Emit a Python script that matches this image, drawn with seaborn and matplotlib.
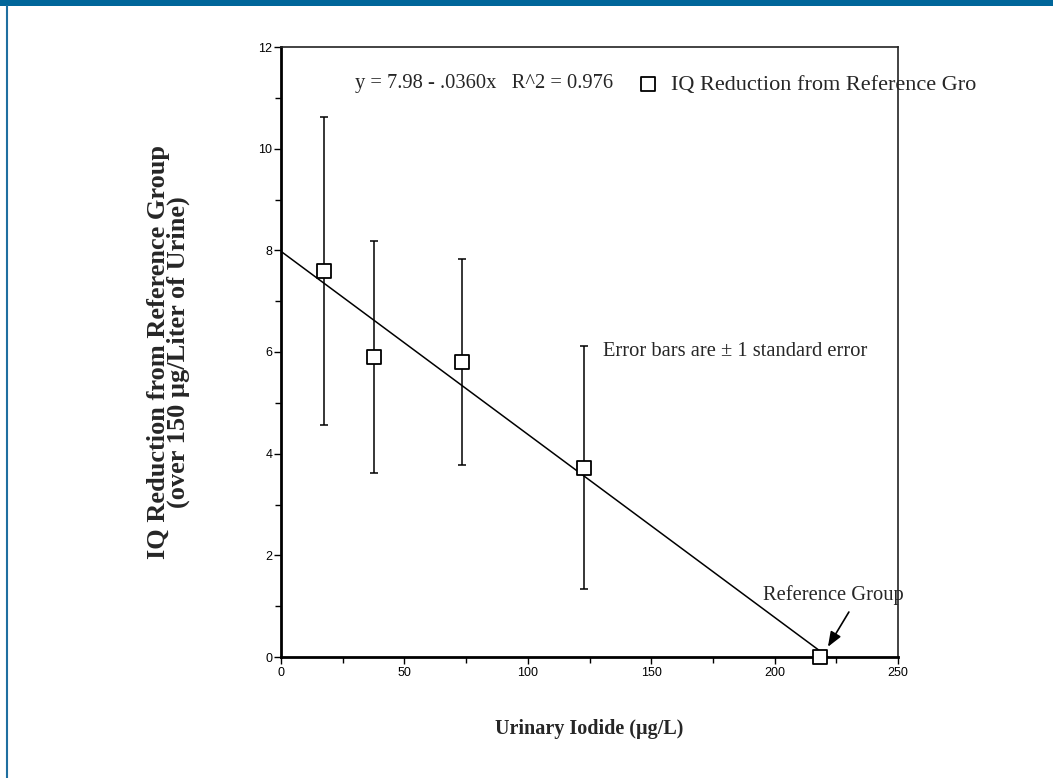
import matplotlib
matplotlib.use("Agg")
import matplotlib.pyplot as plt
import seaborn as sns
from matplotlib.patches import Rectangle
from matplotlib.lines import Line2D
from matplotlib.ticker import MultipleLocator

# ---- data ----
iodide = [17.6, 37.5, 73.2, 122.9, 218.5]          # µg/L
iq_reduction = [7.6, 5.9, 5.8, 3.72, 0.0]          # IQ points
std_error = [3.03, 2.29, 2.03, 2.39, 0.0]          # ± 1 SE
x_ticks = [0, 50, 100, 150, 200, 250]
y_ticks = [0, 2, 4, 6, 8, 10, 12]
intercept = 7.98
slope = -0.0360
r_squared = 0.976
equation_text = "y = 7.98 - .0360x   R^2 = 0.976"
legend_label = "IQ Reduction from Reference Gro"
note_text = "Error bars are \u00b1 1 standard error"
ref_text = "Reference Group"
x_label = "Urinary Iodide (\u00b5g/L)"
y_label = "IQ Reduction from Reference Group\n(over 150 \u00b5g/Liter of Urine)"

sns.set_style("ticks")
plt.rcParams["font.family"] = ["Liberation Sans", "DejaVu Sans"]
serif = ["Liberation Serif", "DejaVu Serif"]

W, H = 1053, 778
fig = plt.figure(figsize=(W / 100, H / 100), dpi=100)
fig.patch.set_facecolor("white")

# decorative frame (blue band on top, thin blue rule on the left)
fig.add_artist(Rectangle((0, 1 - 6 / H), 1, 6 / H, transform=fig.transFigure,
                         facecolor="#00669A", edgecolor="none"))
fig.add_artist(Line2D([6.5 / W, 6.5 / W], [0, 1 - 6 / H], transform=fig.transFigure,
                      color="#1f6fa0", lw=1.5))

ax = fig.add_axes([281 / W, 121 / H, 617 / W, 610 / H])
ax.set_facecolor("white")

# error bars
ex = [x for x, s in zip(iodide, std_error) if s > 0]
ey = [y for y, s in zip(iq_reduction, std_error) if s > 0]
es = [s for s in std_error if s > 0]
ax.errorbar(ex, ey, yerr=es, fmt="none", ecolor="black", elinewidth=1.1,
            capsize=2.6, capthick=1.1, zorder=2)

# regression line
x_end = -intercept / slope
sns.lineplot(x=[0, x_end], y=[intercept, intercept + slope * x_end], ax=ax,
             color="black", lw=1.1, zorder=2.5, legend=False)

# data points
sns.scatterplot(x=iodide, y=iq_reduction, ax=ax, marker="s", s=112,
                facecolor="white", edgecolor="black", linewidth=1.3,
                zorder=3, clip_on=False, label=legend_label)

ax.set_xlim(0, 250)
ax.set_ylim(0, 12)
ax.set_xticks(x_ticks)
ax.set_yticks(y_ticks)
ax.xaxis.set_minor_locator(MultipleLocator(25))
ax.yaxis.set_minor_locator(MultipleLocator(1))
ax.tick_params(which="major", direction="out", length=5, width=1, labelsize=9,
               pad=2, colors="black")
ax.tick_params(axis="y", which="major", pad=1.2)
ax.tick_params(which="minor", direction="out", length=4, width=1, colors="black")

for side in ["left", "bottom"]:
    ax.spines[side].set_linewidth(2.0)
    ax.spines[side].set_color("black")
for side in ["top", "right"]:
    ax.spines[side].set_linewidth(1.2)
    ax.spines[side].set_color("#222222")
    ax.spines[side].set_visible(True)

# axis labels
ax.set_xlabel(x_label, fontfamily=serif, fontweight="bold", fontsize=14.5)
ax.xaxis.set_label_coords(0.5, -0.102)
ax.set_ylabel(y_label, fontfamily=serif, fontweight="bold", fontsize=19,
              linespacing=0.8)
ax.yaxis.set_label_coords(-0.148, 0.5)

# annotations
ax.text(30.0, 11.28, equation_text, fontfamily=serif, fontsize=14.8,
        ha="left", va="center")
ax.text(130.5, 6.0, note_text, fontfamily=serif, fontsize=14.8,
        ha="left", va="center")
ax.text(195.3, 1.22, ref_text, fontfamily=serif, fontsize=14.8,
        ha="left", va="center")
ax.annotate("", xy=(221.6, 0.2), xytext=(230.1, 0.885),
            arrowprops=dict(arrowstyle="-|>,head_length=0.9,head_width=0.35",
                            color="black", lw=1.2, shrinkA=0, shrinkB=0))

# legend
leg = ax.legend(loc="center left", bbox_to_anchor=(637.6 / W, 1 - 85 / H),
                bbox_transform=fig.transFigure, frameon=False, borderpad=0,
                borderaxespad=0, handlelength=0.95, handletextpad=0.55,
                prop={"family": serif, "size": 16})

fig.savefig("out.png", dpi=100)
